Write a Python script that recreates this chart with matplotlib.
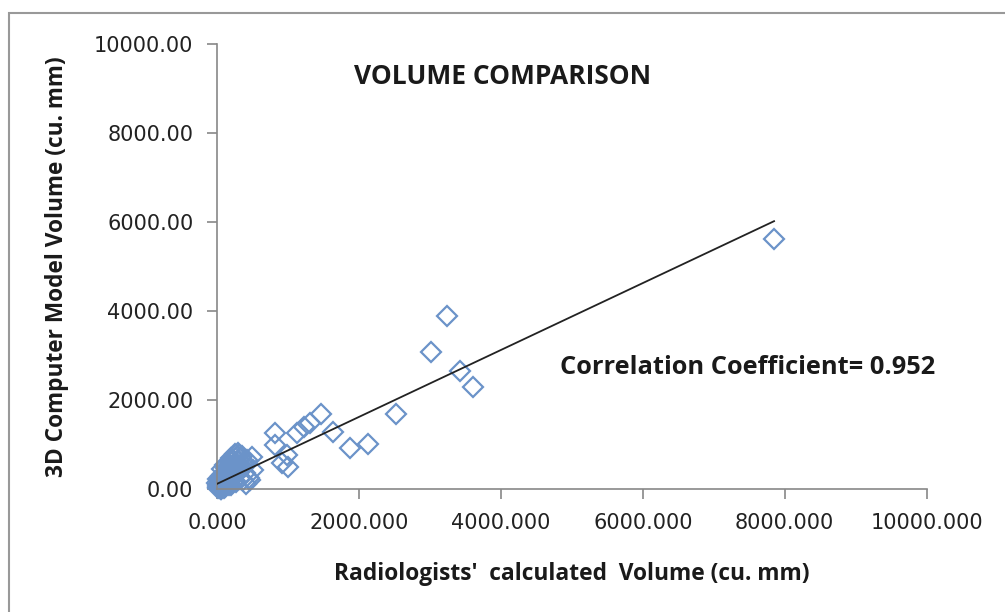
import numpy as np
import matplotlib.pyplot as plt
from matplotlib.patches import Rectangle

# radiologists' volume (x) vs 3D model volume (y), cu. mm
radiologist_vol = [
    7850, 3240, 3010, 3420, 3600, 2520, 2130, 1880, 1640, 1460,
    1310, 1220, 1120, 820, 820, 980, 910, 1000, 490, 470, 510,
    20, 40, 60, 80, 100, 120, 150, 170, 190, 210, 240, 260, 280,
    300, 330, 350, 380, 400, 420, 450, 30, 50, 70, 90, 110, 130,
    160, 180, 200, 220, 250, 270, 290, 320, 340, 360, 15, 25, 45,
    140, 230, 310, 390, 60, 100, 200, 260, 330, 410,
    10, 35, 55, 75, 95, 115, 135, 155, 175, 195, 215, 235,
    20, 50, 80, 110, 140, 170, 200, 230, 5, 65, 125, 185,
]
model_vol = [
    5620, 3880, 3070, 2650, 2290, 1690, 1010, 910, 1280, 1680,
    1490, 1390, 1260, 1250, 990, 760, 580, 500, 720, 200, 430,
    40, 100, 60, 200, 150, 350, 250, 500, 300, 650, 450, 700, 550,
    800, 400, 750, 600, 350, 650, 250, 180, 300, 450, 120, 550, 280,
    400, 620, 700, 500, 780, 350, 600, 480, 700, 200, 20, 70, 250,
    480, 300, 760, 520, 10, 30, 100, 150, 220, 120,
    80, 20, 150, 60, 250, 90, 180, 320, 130, 420, 220, 560,
    230, 10, 330, 40, 210, 90, 380, 160, 130, 280, 470, 230,
]
x_ticks = [0, 2000, 4000, 6000, 8000, 10000]
y_ticks = [0, 2000, 4000, 6000, 8000, 10000]

# linear trend line as drawn in the source (Excel trendline)
trend_slope = 0.752
trend_intercept = 116

fig = plt.figure(figsize=(10.05, 6.12), dpi=100)
ax = fig.add_axes([0.216, 0.201, 0.706, 0.727])

blue = '#6b93c9'
ax.plot(radiologist_vol, model_vol, linestyle='none', marker='D', ms=10.5,
        mfc='none', mec=blue, mew=1.6, zorder=2, clip_on=False)

xs = np.array([min(radiologist_vol), max(radiologist_vol)])
ax.plot(xs, trend_slope * xs + trend_intercept, color='#222222', lw=1.3, zorder=3)

ax.set_xlim(0, 10000)
ax.set_ylim(0, 10000)
ax.set_xticks(x_ticks)
ax.set_yticks(y_ticks)
ax.set_xticklabels(['%.3f' % v for v in x_ticks])
ax.set_yticklabels(['%.2f' % v for v in y_ticks])
ax.tick_params(direction='out', length=7, width=1.2, color='#888888',
               labelsize=15, labelcolor='#222222', pad=10)
for lab in ax.get_xticklabels() + ax.get_yticklabels():
    lab.set_family('DejaVu Sans')
for s in ['top', 'right']:
    ax.spines[s].set_visible(False)
for s in ['left', 'bottom']:
    ax.spines[s].set_color('#888888')
    ax.spines[s].set_linewidth(1.2)

bold = dict(family='Open Sans', weight='bold', color='#1a1a1a')
ax.set_xlabel("Radiologists'  calculated  Volume (cu. mm)", fontsize=16.4, labelpad=21, **bold)
ax.set_ylabel("3D Computer Model Volume (cu. mm)", fontsize=16.3, labelpad=18, **bold)
ax.text(1930, 9280, 'VOLUME COMPARISON', fontsize=19, va='center', ha='left', **bold)
ax.text(4830, 2740, 'Correlation Coefficient= 0.952', fontsize=18.3, va='center', ha='left', **bold)

# outer chart frame (clipped at right/bottom like the source)
fig.patches.append(Rectangle((9 / 1005, -0.1), 1.2, 1 - 13 / 612 + 0.1,
                             transform=fig.transFigure, fill=False,
                             edgecolor='#999999', lw=1.5))

fig.savefig('out.png', dpi=100)
